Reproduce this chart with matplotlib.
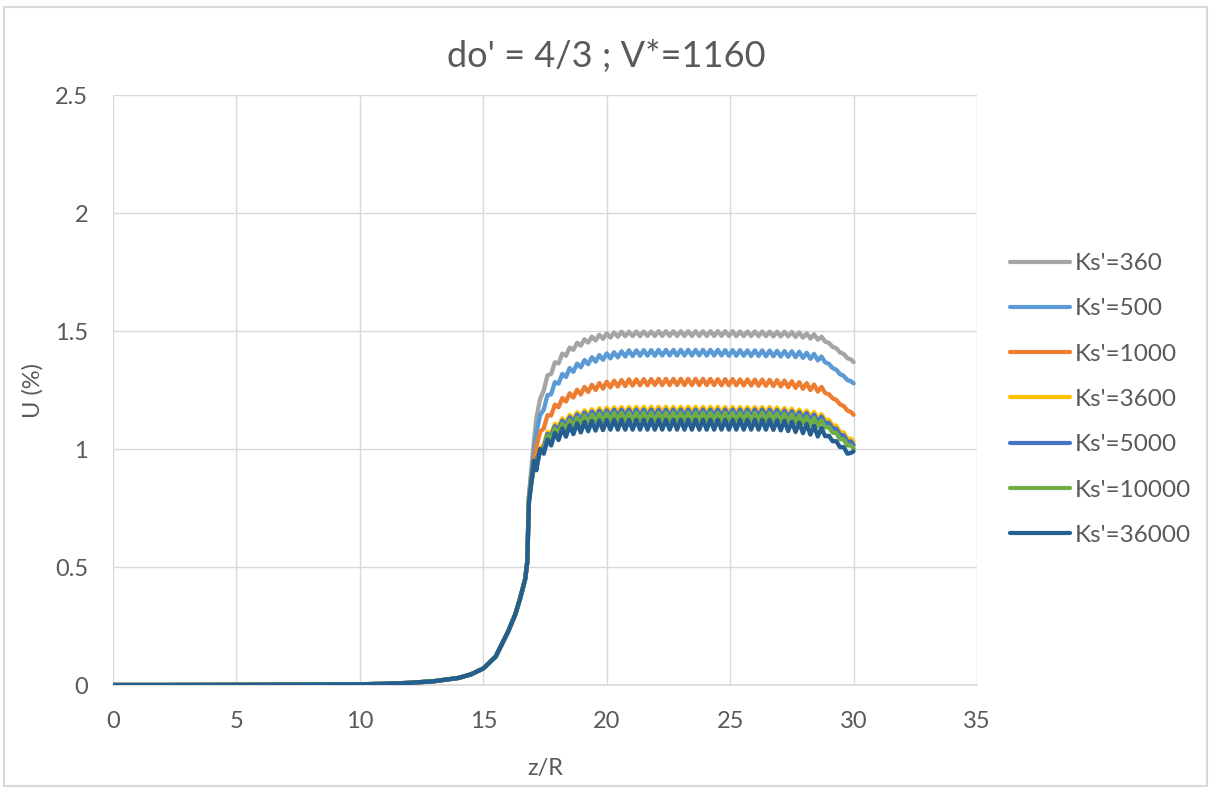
import matplotlib
matplotlib.use("Agg")
import matplotlib.pyplot as plt
from matplotlib.patches import Rectangle
from matplotlib.lines import Line2D

# ---------------- data ----------------
title_text = "do' = 4/3 ; V*=1160"
x_label = "z/R"
y_label = "U (%)"
x_ticks = [0, 5, 10, 15, 20, 25, 30, 35]
y_ticks = [0, 0.5, 1, 1.5, 2, 2.5]
y_tick_labels = ["0", "0.5", "1", "1.5", "2", "2.5"]

# shared part of all curves (they coincide up to z/R ~ 16.8)
z_head = [0, 2, 4, 6, 8, 10, 11, 12, 13, 14, 14.5, 15, 15.5, 16, 16.3, 16.5, 16.7, 16.78]
u_head = [0.0, 0.0, 0.0005, 0.001, 0.002, 0.003, 0.005, 0.009, 0.016, 0.03, 0.045,
          0.07, 0.12, 0.225, 0.30, 0.37, 0.45, 0.52]

# z/R positions of the individual part of each curve
z_tail = [16.85, 16.95, 17.05, 17.15,
          17.30, 17.45, 17.60, 17.75, 17.90, 18.05, 18.20, 18.35, 18.50, 18.65,
          18.80, 18.95, 19.10, 19.25, 19.40, 19.55, 19.70, 19.85, 20.00, 20.15,
          20.30, 20.45, 20.60, 20.75, 20.90, 21.05, 21.20, 21.35, 21.50, 21.65,
          21.80, 21.95, 22.10, 22.25, 22.40, 22.55, 22.70, 22.85, 23.00, 23.15,
          23.30, 23.45, 23.60, 23.75, 23.90, 24.05, 24.20, 24.35, 24.50, 24.65,
          24.80, 24.95, 25.10, 25.25, 25.40, 25.55, 25.70, 25.85, 26.00, 26.15,
          26.30, 26.45, 26.60, 26.75, 26.90, 27.05, 27.20, 27.35, 27.50, 27.65,
          27.80, 27.95, 28.10, 28.25, 28.40, 28.55, 28.70, 28.85, 29.00, 29.15,
          29.30, 29.45, 29.60, 29.75, 29.90,
          30.00]

labels = ["Ks'=360", "Ks'=500", "Ks'=1000", "Ks'=3600", "Ks'=5000", "Ks'=10000", "Ks'=36000"]

u_ks360 = [0.80, 0.92, 1.03, 1.13,
           1.212, 1.248, 1.312, 1.318, 1.367, 1.363, 1.404, 1.395, 1.430, 1.420,
           1.450, 1.438, 1.465, 1.451, 1.476, 1.460, 1.484, 1.467, 1.490, 1.472,
           1.494, 1.476, 1.497, 1.478, 1.497, 1.478, 1.498, 1.478, 1.498, 1.479,
           1.498, 1.479, 1.499, 1.479, 1.499, 1.479, 1.499, 1.479, 1.499, 1.479,
           1.499, 1.479, 1.499, 1.479, 1.499, 1.479, 1.499, 1.479, 1.499, 1.479,
           1.499, 1.479, 1.499, 1.478, 1.498, 1.478, 1.498, 1.478, 1.498, 1.478,
           1.498, 1.478, 1.497, 1.477, 1.497, 1.477, 1.497, 1.477, 1.496, 1.475,
           1.494, 1.472, 1.490, 1.468, 1.486, 1.463, 1.476, 1.455, 1.450, 1.433,
           1.427, 1.409, 1.403, 1.385, 1.379,
           1.368]

u_ks500 = [0.80, 0.90, 0.99, 1.07,
           1.143, 1.167, 1.228, 1.232, 1.283, 1.277, 1.318, 1.305, 1.343, 1.327,
           1.362, 1.346, 1.377, 1.359, 1.389, 1.370, 1.398, 1.378, 1.405, 1.384,
           1.410, 1.388, 1.414, 1.392, 1.418, 1.394, 1.418, 1.395, 1.419, 1.395,
           1.419, 1.395, 1.420, 1.396, 1.420, 1.396, 1.420, 1.396, 1.420, 1.396,
           1.420, 1.396, 1.420, 1.396, 1.420, 1.396, 1.420, 1.396, 1.420, 1.396,
           1.419, 1.395, 1.419, 1.395, 1.419, 1.395, 1.418, 1.394, 1.418, 1.394,
           1.418, 1.393, 1.417, 1.393, 1.416, 1.392, 1.415, 1.391, 1.414, 1.389,
           1.412, 1.386, 1.408, 1.382, 1.403, 1.375, 1.392, 1.367, 1.361, 1.343,
           1.336, 1.317, 1.310, 1.292, 1.287,
           1.278]

u_ks1000 = [0.79, 0.88, 0.95, 1.01,
            1.073, 1.087, 1.143, 1.142, 1.188, 1.177, 1.216, 1.201, 1.236, 1.218,
            1.251, 1.231, 1.263, 1.242, 1.272, 1.250, 1.279, 1.256, 1.285, 1.261,
            1.289, 1.265, 1.292, 1.267, 1.295, 1.269, 1.295, 1.270, 1.296, 1.270,
            1.296, 1.271, 1.297, 1.271, 1.297, 1.271, 1.297, 1.271, 1.297, 1.271,
            1.297, 1.271, 1.297, 1.271, 1.297, 1.271, 1.297, 1.271, 1.296, 1.270,
            1.296, 1.270, 1.296, 1.270, 1.295, 1.269, 1.295, 1.269, 1.294, 1.268,
            1.294, 1.268, 1.293, 1.267, 1.292, 1.265, 1.290, 1.262, 1.287, 1.259,
            1.283, 1.255, 1.279, 1.250, 1.273, 1.243, 1.263, 1.237, 1.232, 1.215,
            1.208, 1.189, 1.182, 1.163, 1.156,
            1.145]

u_ks3600 = [0.79, 0.86, 0.92, 0.96,
            1.002, 1.018, 1.072, 1.068, 1.107, 1.096, 1.130, 1.114, 1.145, 1.127,
            1.156, 1.136, 1.164, 1.143, 1.169, 1.147, 1.173, 1.150, 1.175, 1.152,
            1.177, 1.154, 1.178, 1.154, 1.178, 1.155, 1.179, 1.155, 1.179, 1.155,
            1.179, 1.155, 1.179, 1.155, 1.179, 1.155, 1.179, 1.155, 1.179, 1.155,
            1.179, 1.155, 1.179, 1.155, 1.179, 1.155, 1.179, 1.155, 1.179, 1.155,
            1.178, 1.154, 1.178, 1.154, 1.178, 1.154, 1.178, 1.154, 1.178, 1.154,
            1.178, 1.154, 1.178, 1.153, 1.176, 1.151, 1.174, 1.149, 1.171, 1.145,
            1.167, 1.141, 1.163, 1.136, 1.157, 1.129, 1.148, 1.122, 1.124, 1.100,
            1.099, 1.073, 1.070, 1.044, 1.043,
            1.030]

u_ks5000 = [0.79, 0.86, 0.92, 0.955,
            0.994, 1.006, 1.064, 1.055, 1.097, 1.082, 1.120, 1.100, 1.135, 1.113,
            1.146, 1.122, 1.154, 1.129, 1.159, 1.133, 1.162, 1.135, 1.164, 1.137,
            1.166, 1.139, 1.167, 1.139, 1.167, 1.139, 1.167, 1.139, 1.167, 1.139,
            1.167, 1.139, 1.167, 1.139, 1.167, 1.139, 1.167, 1.139, 1.167, 1.139,
            1.167, 1.139, 1.167, 1.139, 1.167, 1.139, 1.167, 1.139, 1.167, 1.139,
            1.167, 1.139, 1.167, 1.139, 1.167, 1.139, 1.167, 1.139, 1.167, 1.139,
            1.167, 1.139, 1.167, 1.138, 1.165, 1.136, 1.163, 1.134, 1.160, 1.130,
            1.156, 1.126, 1.152, 1.121, 1.146, 1.114, 1.137, 1.109, 1.111, 1.087,
            1.086, 1.060, 1.058, 1.032, 1.031,
            1.017]

u_ks10000 = [0.78, 0.86, 0.93, 0.94,
             0.986, 0.994, 1.056, 1.042, 1.087, 1.066, 1.107, 1.083, 1.122, 1.096,
             1.133, 1.105, 1.141, 1.112, 1.146, 1.116, 1.149, 1.118, 1.151, 1.120,
             1.153, 1.121, 1.153, 1.121, 1.153, 1.121, 1.153, 1.121, 1.153, 1.121,
             1.153, 1.121, 1.153, 1.121, 1.153, 1.121, 1.153, 1.121, 1.153, 1.121,
             1.153, 1.121, 1.153, 1.121, 1.153, 1.121, 1.153, 1.121, 1.153, 1.121,
             1.153, 1.121, 1.153, 1.121, 1.153, 1.121, 1.153, 1.121, 1.153, 1.121,
             1.153, 1.121, 1.153, 1.120, 1.151, 1.118, 1.149, 1.116, 1.146, 1.112,
             1.142, 1.108, 1.137, 1.102, 1.131, 1.095, 1.121, 1.091, 1.093, 1.069,
             1.068, 1.042, 1.040, 1.015, 1.015,
             1.002]

u_ks36000 = [0.77, 0.86, 0.95, 0.91,
             1.000, 0.980, 1.040, 1.015, 1.068, 1.038, 1.087, 1.052, 1.100, 1.063,
             1.109, 1.070, 1.115, 1.075, 1.119, 1.078, 1.121, 1.080, 1.123, 1.082,
             1.124, 1.082, 1.124, 1.082, 1.124, 1.082, 1.124, 1.082, 1.124, 1.082,
             1.124, 1.082, 1.124, 1.082, 1.124, 1.082, 1.124, 1.082, 1.124, 1.082,
             1.124, 1.082, 1.124, 1.082, 1.124, 1.082, 1.124, 1.082, 1.124, 1.082,
             1.124, 1.082, 1.124, 1.082, 1.124, 1.082, 1.124, 1.082, 1.124, 1.082,
             1.124, 1.082, 1.124, 1.081, 1.122, 1.079, 1.120, 1.076, 1.116, 1.072,
             1.112, 1.067, 1.106, 1.061, 1.099, 1.053, 1.089, 1.054, 1.056, 1.033,
             1.033, 1.008, 1.008, 0.980, 0.984,
             0.990]

series = [u_ks360, u_ks500, u_ks1000, u_ks3600, u_ks5000, u_ks10000, u_ks36000]
colors = ["#A5A5A5", "#5B9BD5", "#ED7D31", "#FFC000", "#4472C4", "#70AD47", "#255E91"]

# ---------------- figure ----------------
FONT = "Lato"
TXT = "#595959"
W, H = 1212, 789
fig = plt.figure(figsize=(W / 100, H / 100), dpi=100)
fig.patch.set_facecolor("white")

# chart-area border
fig.add_artist(Rectangle((4 / W, 1 - 786 / H), (1207 - 4) / W, (786 - 7) / H,
                         transform=fig.transFigure, fill=False,
                         edgecolor="#D9D9D9", linewidth=1.5))

L, R, T, B = 113, 977, 95, 685
ax = fig.add_axes([L / W, 1 - B / H, (R - L) / W, (B - T) / H])

z_all = z_head + z_tail
for lab, vals, col in zip(labels, series, colors):
    ax.plot(z_all, u_head + vals, color=col, lw=3.1,
            solid_joinstyle="round", solid_capstyle="round", label=lab,
            zorder=3)

ax.set_xlim(0, 35)
ax.set_ylim(0, 2.5)
ax.set_xticks(x_ticks)
ax.set_xticklabels([str(v) for v in x_ticks])
ax.set_yticks(y_ticks)
ax.set_yticklabels(y_tick_labels)
ax.grid(True, color="#D9D9D9", linewidth=1.0, zorder=0)
ax.set_axisbelow(True)
for s in ["left", "right", "top"]:
    ax.spines[s].set_visible(False)
ax.spines["bottom"].set_color("#D9D9D9")
ax.spines["bottom"].set_linewidth(1.2)
ax.tick_params(axis="both", length=0, labelsize=17, labelcolor=TXT)
ax.tick_params(axis="x", pad=19)
ax.tick_params(axis="y", pad=18)
for lbl in ax.get_xticklabels() + ax.get_yticklabels():
    lbl.set_fontfamily(FONT)

fig.text(606 / W, 1 - 57 / H, title_text, ha="center", va="center",
         fontsize=26, color=TXT, family=FONT)
fig.text(545 / W, 1 - 768 / H, x_label, ha="center", va="center",
         fontsize=17, color=TXT, family=FONT)
fig.text(33 / W, 1 - 390 / H, y_label, ha="center", va="center", rotation=90,
         fontsize=17, color=TXT, family=FONT)

leg_handles = [Line2D([0], [0], color=c, lw=3.0, solid_capstyle="round") for c in colors]
leg = fig.legend(leg_handles, labels, loc="upper left",
                 bbox_to_anchor=(1010 / W, 1 - 253 / H), frameon=False,
                 handlelength=2.45, handletextpad=0.22, labelspacing=1.0,
                 borderaxespad=0, borderpad=0,
                 prop={"family": FONT, "size": 17.5})
for t in leg.get_texts():
    t.set_color(TXT)

fig.savefig("out.png", dpi=100, facecolor="white")
